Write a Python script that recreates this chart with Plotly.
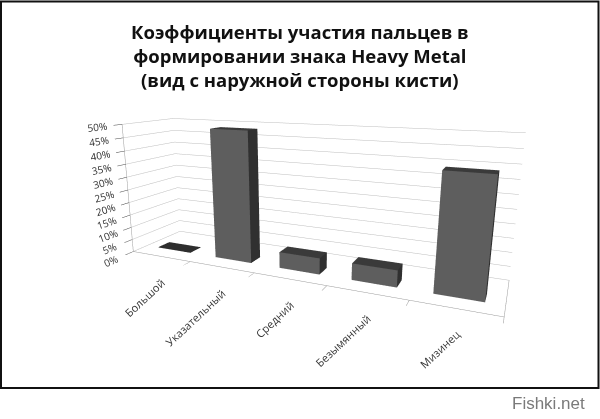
import math
import plotly.graph_objects as go

# ---- data ----
categories = ['Большой', 'Указательный', 'Средний', 'Безымянный', 'Мизинец']
values = [0.0, 0.49, 0.06, 0.06, 0.40]
z_ticks = [0.0, 0.05, 0.10, 0.15, 0.20, 0.25, 0.30, 0.35, 0.40, 0.45, 0.50]
title_lines = ['Коэффициенты участия пальцев в',
               'формировании знака Heavy Metal',
               '(вид с наружной стороны кисти)']

BAR_W = 0.57      # fraction of category width
D0, D1 = 0.27, 0.50  # bar depth span (y-axis units, range 0..1)
MIN_H = 0.002     # zero bar still shows a flat plate

C_FRONT = '#5e5e5e'
C_TOP = '#3a3a3a'
C_SIDE = '#303030'

fig = go.Figure()

for i, (cat, v) in enumerate(zip(categories, values)):
    h = max(v, MIN_H)
    x0, x1 = i - BAR_W / 2, i + BAR_W / 2
    xs = [x0, x1, x1, x0, x0, x1, x1, x0]
    ys = [D0, D0, D1, D1, D0, D0, D1, D1]
    zs = [0, 0, 0, 0, h, h, h, h]
    tri = [
        (0, 1, 5, C_FRONT), (0, 5, 4, C_FRONT),
        (3, 2, 6, C_FRONT), (3, 6, 7, C_FRONT),
        (4, 5, 6, C_TOP), (4, 6, 7, C_TOP),
        (0, 1, 2, C_TOP), (0, 2, 3, C_TOP),
        (1, 2, 6, C_SIDE), (1, 6, 5, C_SIDE),
        (0, 3, 7, C_SIDE), (0, 7, 4, C_SIDE),
    ]
    fc = [t[3] for t in tri]
    if v == 0:
        fc = ['#2e2e2e'] * len(tri)
    fig.add_trace(go.Mesh3d(
        x=xs, y=ys, z=zs,
        i=[t[0] for t in tri], j=[t[1] for t in tri], k=[t[2] for t in tri],
        facecolor=fc, flatshading=True,
        lighting=dict(ambient=1.0, diffuse=0.0, specular=0.0, roughness=1.0, fresnel=0.0),
        hoverinfo='skip', showscale=False, name=cat,
    ))

axis_common = dict(title=dict(text=''), showspikes=False, zeroline=False,
                   backgroundcolor='white', showbackground=True)

scene_annotations = [
    dict(x=i, y=0, z=0, text=cat, showarrow=False, textangle=-43,
         xanchor='right', yanchor='top', xshift=10, yshift=-16,
         font=dict(family='Open Sans', size=11, color='#383838'))
    for i, cat in enumerate(categories)
]

boundary_ticks = [k - 0.5 for k in range(len(categories) + 1)]

dist, elev, rot = 1.93, math.radians(13.5), math.radians(23.5)
eye = dict(x=dist * math.cos(elev) * math.sin(rot),
           y=-dist * math.cos(elev) * math.cos(rot),
           z=dist * math.sin(elev))

fig.update_layout(
    width=600, height=419,
    margin=dict(l=0, r=0, t=0, b=0),
    paper_bgcolor='white',
    showlegend=False,
    scene=dict(
        domain=dict(x=[0.0, 1.0], y=[0.0, 1.0]),
        xaxis=dict(range=[-0.5, len(categories) - 0.5], showgrid=False,
                   tickvals=boundary_ticks, showticklabels=False, ticks='outside',
                   ticklen=4, tickcolor='#9a9a9a', showline=True,
                   linecolor='#9a9a9a', **axis_common),
        yaxis=dict(range=[0, 1], showgrid=False, showticklabels=False,
                   ticks='', showline=True, linecolor='#9a9a9a', **axis_common),
        zaxis=dict(range=[0, 0.5], tickvals=z_ticks, tickformat='.0%',
                   showgrid=True, gridcolor='#bdbdbd', gridwidth=1,
                   showline=True, linecolor='#9a9a9a', ticks='outside',
                   tickfont=dict(family='Open Sans', size=11, color='#333333'),
                   **axis_common),
        aspectmode='manual',
        aspectratio=dict(x=1.47, y=0.32, z=0.535),
        camera=dict(
            eye=eye,
            center=dict(x=-0.03, y=0, z=-0.045),
            projection=dict(type='perspective'),
        ),
        annotations=scene_annotations,
    ),
    annotations=[
        dict(x=0.5, y=1 - 17 / 419, xref='paper', yref='paper',
             text='<b>' + '<br>'.join(title_lines) + '</b>', showarrow=False,
             xanchor='center', yanchor='top', align='center',
             font=dict(family='Open Sans', size=18.5, color='#111111')),
        dict(x=587 / 600, y=1 - 403 / 419, xref='paper', yref='paper',
             text='Fishki.net', showarrow=False, xanchor='right', yanchor='middle',
             font=dict(family='Liberation Sans', size=17, color='#7a7a7a')),
    ],
    shapes=[
        dict(type='rect', xref='paper', yref='paper',
             x0=1 / 600, x1=598.5 / 600, y0=1 - 388 / 419, y1=1 - 1.5 / 419,
             line=dict(color='#111111', width=2)),
    ],
)

fig.write_html('out.html', config={'displayModeBar': False},
               post_script="document.body.style.margin='0';")
